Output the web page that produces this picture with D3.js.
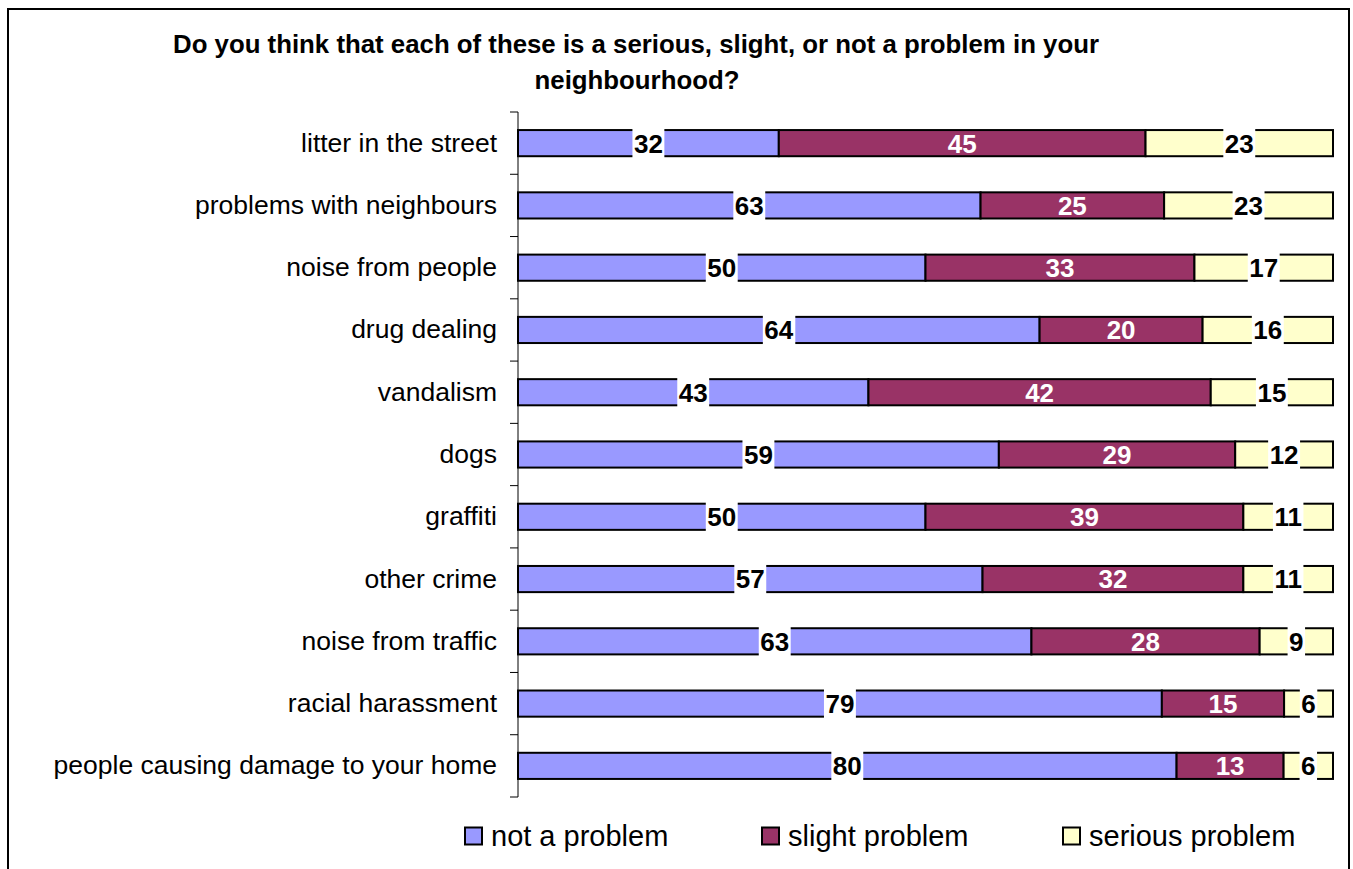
<!DOCTYPE html>
<html>
<head>
<meta charset="utf-8">
<script src="https://cdn.jsdelivr.net/npm/d3@7"></script>
<style>
  body { margin: 0; background: #fff; }
  text { font-family: "Liberation Sans", Arial, sans-serif; }
</style>
</head>
<body>
<svg id="chart" width="1353" height="869"></svg>
<script>
var categories = ["litter in the street", "problems with neighbours", "noise from people",
  "drug dealing", "vandalism", "dogs", "graffiti", "other crime", "noise from traffic",
  "racial harassment", "people causing damage to your home"];
var notProblem = [32, 63, 50, 64, 43, 59, 50, 57, 63, 79, 80];
var slightProblem = [45, 25, 33, 20, 42, 29, 39, 32, 28, 15, 13];
var seriousProblem = [23, 23, 17, 16, 15, 12, 11, 11, 9, 6, 6];
var seriesNames = ["not a problem", "slight problem", "serious problem"];
var colors = ["#9999FF", "#993366", "#FFFFCC"];
var labelColors = ["#000", "#fff", "#000"];

var svg = d3.select("#chart");

// outer frame
svg.append("rect")
  .attr("x", 8).attr("y", 9)
  .attr("width", 1341).attr("height", 870)
  .attr("fill", "none").attr("stroke", "#000").attr("stroke-width", 2);

// title
var title = svg.append("text")
  .attr("text-anchor", "middle")
  .attr("font-weight", "bold")
  .attr("font-size", 25.8);
title.append("tspan").attr("x", 636).attr("y", 53)
  .text("Do you think that each of these is a serious, slight, or not a problem in your");
title.append("tspan").attr("x", 637).attr("y", 89)
  .text("neighbourhood?");

var x = d3.scaleLinear().domain([0, 1]).range([518, 1333]);
var y = d3.scaleBand().domain(categories).range([112, 797])
  .paddingInner(0.58).paddingOuter(0.29);

// build stacked rows (100% stacked; labels keep raw values)
var rows = categories.map(function(c, i) {
  var vals = [notProblem[i], slightProblem[i], seriousProblem[i]];
  var total = d3.sum(vals);
  var start = 0;
  return vals.map(function(v, k) {
    var seg = { cat: c, k: k, value: v, x0: start / total, x1: (start + v) / total };
    start += v;
    return seg;
  });
});
var segs = [].concat.apply([], rows);

// category axis
var axis = d3.axisLeft(y).tickSize(0).tickPadding(21);
var ax = svg.append("g").attr("transform", "translate(518,0)").call(axis);
ax.select(".domain").remove();
ax.selectAll("text").attr("font-size", 26.5).attr("fill", "#000")
  .attr("font-family", "\"Liberation Sans\", Arial, sans-serif");
svg.append("line").attr("x1", 518).attr("x2", 518).attr("y1", 112).attr("y2", 797)
  .attr("stroke", "#000").attr("stroke-width", 1);
var step = y.step();
var bounds = d3.range(categories.length + 1).map(function(i) { return 112 + i * step; });
svg.selectAll(".tk").data(bounds).enter().append("line")
  .attr("x1", 510).attr("x2", 518)
  .attr("y1", function(d) { return d; }).attr("y2", function(d) { return d; })
  .attr("stroke", "#000").attr("stroke-width", 1);

// bars
svg.selectAll(".bar").data(segs).enter().append("rect")
  .attr("x", function(d) { return x(d.x0); })
  .attr("y", function(d) { return y(d.cat); })
  .attr("width", function(d) { return x(d.x1) - x(d.x0); })
  .attr("height", y.bandwidth())
  .attr("fill", function(d) { return colors[d.k]; })
  .attr("stroke", "#000").attr("stroke-width", 2);

// data labels
var lab = svg.selectAll(".lab").data(segs).enter().append("g")
  .attr("transform", function(d) {
    return "translate(" + ((x(d.x0) + x(d.x1)) / 2) + "," + (y(d.cat) + y.bandwidth() / 2) + ")";
  });
lab.append("text")
  .attr("text-anchor", "middle").attr("dy", "0.36em")
  .attr("font-size", 26).attr("font-weight", "bold")
  .attr("fill", function(d) { return labelColors[d.k]; })
  .text(function(d) { return d.value; })
  .each(function(d) {
    if (d.k === 1) return;
    var bb = this.getBBox();
    d3.select(this.parentNode).insert("rect", "text")
      .attr("x", bb.x - 1.5).attr("y", -15)
      .attr("width", bb.width + 3).attr("height", 30)
      .attr("fill", "#fff");
  });

// legend
var legendX = [465, 762, 1063];
var lg = svg.selectAll(".lg").data(seriesNames).enter().append("g")
  .attr("transform", function(d, i) { return "translate(" + legendX[i] + ",836)"; });
lg.append("rect").attr("x", 0).attr("y", -8.5).attr("width", 17).attr("height", 17)
  .attr("fill", function(d, i) { return colors[i]; })
  .attr("stroke", "#000").attr("stroke-width", 2);
lg.append("text").attr("x", 26).attr("dy", "0.36em")
  .attr("font-size", 29).text(function(d) { return d; });
</script>
</body>
</html>
